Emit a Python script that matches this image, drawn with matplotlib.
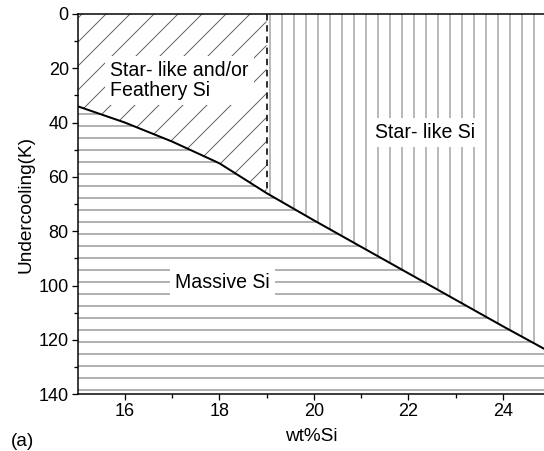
import matplotlib.pyplot as plt
import numpy as np

plt.rcParams['font.family'] = ['Liberation Sans', 'DejaVu Sans']
plt.rcParams['hatch.linewidth'] = 0.9

# boundary between massive Si and star-like / feathery Si
wt_si = [15, 16, 17, 18, 19, 20, 22, 24, 25]
undercooling = [34, 40, 47, 55, 66, 76, 95.5, 115, 124.5]
x_split = 19  # dashed line separating the two upper regions

fig = plt.figure(figsize=(544 / 72, 451 / 72), dpi=72)
ax = fig.add_axes([0.143, 0.126, 0.857, 0.843])

x = np.array(wt_si, dtype=float)
y = np.array(undercooling, dtype=float)
left = x <= x_split
right = x >= x_split

# massive Si region (below the line)
ax.fill_between(x, y, 140, facecolor='white', edgecolor='#555555',
                hatch='-', linewidth=0)
# star-like and/or feathery region
ax.fill_between(x[left], 0, y[left], facecolor='white', edgecolor='#555555',
                hatch='/', linewidth=0)
# star-like region
ax.fill_between(x[right], 0, y[right], facecolor='white', edgecolor='#666666',
                hatch='|', linewidth=0)

ax.plot(x, y, color='black', lw=2)
ax.plot([x_split, x_split], [0, y[x == x_split][0]], color='black',
        lw=1.6, ls=(0, (4, 3)))

box = dict(facecolor='white', edgecolor='none', pad=5)
ax.text(17.15, 24.5, 'Star- like and/or\nFeathery Si', ha='center', va='center',
        multialignment='left', fontsize=19.5, linespacing=1.1, bbox=box)
ax.text(22.35, 43.5, 'Star- like Si', ha='center', va='center',
        fontsize=19.5, bbox=box)
ax.text(18.07, 99, 'Massive Si', ha='center', va='center',
        fontsize=19.5, bbox=box)

ax.set_xlim(15, 24.87)
ax.set_ylim(140, 0)
ax.set_xticks([16, 18, 20, 22, 24])
ax.set_xticks([17, 19, 21, 23], minor=True)
ax.set_yticks(range(0, 141, 20))
ax.set_yticks(range(10, 140, 20), minor=True)
ax.tick_params(labelsize=18, width=1.3, length=6, direction='out', pad=3)
ax.tick_params(which='minor', width=1.3, length=4, direction='out')
ax.spines['right'].set_visible(False)
for s in ['left', 'bottom', 'top']:
    ax.spines[s].set_linewidth(1.5)

ax.set_xlabel('wt%Si', fontsize=19, labelpad=8)
ax.set_ylabel('Undercooling(K)', fontsize=19, labelpad=4)
fig.text(0.02, 0.012, '(a)', fontsize=19)

fig.savefig('out.png', dpi=72)
